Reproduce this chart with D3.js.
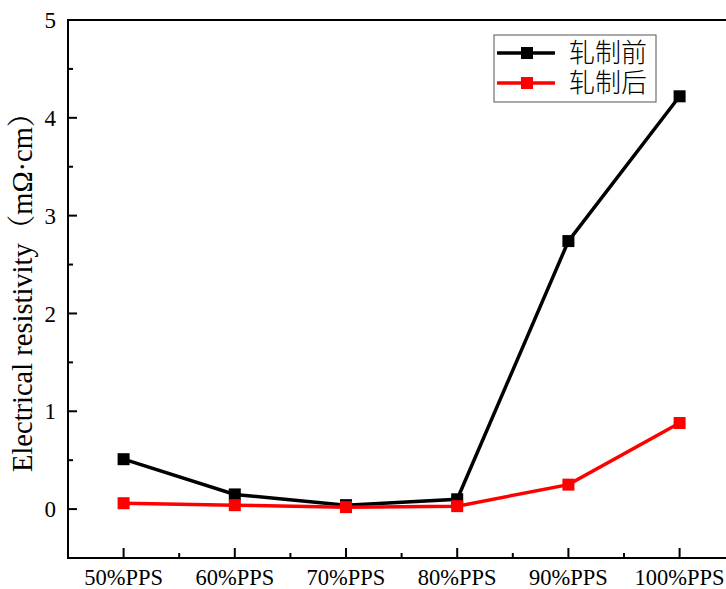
<!DOCTYPE html>
<html>
<head>
<meta charset="utf-8">
<script src="https://cdn.jsdelivr.net/npm/d3@7"></script>
<style>
  html, body { margin: 0; padding: 0; background: #fff; }
  svg { display: block; }
</style>
</head>
<body>
<svg id="chart" width="726" height="589"></svg>
<script>
const categories = ["50%PPS", "60%PPS", "70%PPS", "80%PPS", "90%PPS", "100%PPS"];
const beforeRolling = [0.51, 0.15, 0.04, 0.10, 2.74, 4.22];
const afterRolling  = [0.06, 0.04, 0.02, 0.03, 0.25, 0.88];
const seriesNames = ["轧制前", "轧制后"];
const seriesColors = ["#000000", "#ff0000"];
const yTicks = [0, 1, 2, 3, 4, 5];

(function () {
    const svg = d3.select("#chart");
    const left = 68, top = 20, bottom = 558;
    const step = 111.2;
    const right = left + step * 6;

    const x = d3.scaleLinear().domain([0.5, 6.5]).range([left, right]);
    const y = d3.scaleLinear().domain([-0.5, 5]).range([bottom, top]);

    const serif = "Liberation Serif";

    // frame (right side falls outside the picture)
    svg.append("rect")
        .attr("x", left).attr("y", top)
        .attr("width", right - left).attr("height", bottom - top)
        .attr("fill", "none").attr("stroke", "#000").attr("stroke-width", 2);

    // y ticks (inward)
    const yMinor = d3.range(-0.5, 5.01, 0.5).filter(v => !Number.isInteger(v));
    svg.append("g").selectAll("line").data(yTicks).join("line")
        .attr("x1", left).attr("x2", left + 9)
        .attr("y1", d => y(d)).attr("y2", d => y(d))
        .attr("stroke", "#000").attr("stroke-width", 2);
    svg.append("g").selectAll("line").data(yMinor).join("line")
        .attr("x1", left).attr("x2", left + 5)
        .attr("y1", d => y(d)).attr("y2", d => y(d))
        .attr("stroke", "#000").attr("stroke-width", 2);
    svg.append("g").selectAll("text").data(yTicks).join("text")
        .attr("x", left - 12).attr("y", d => y(d))
        .attr("dy", "0.35em")
        .attr("text-anchor", "end")
        .attr("font-family", serif).attr("font-size", 23)
        .text(d => d);

    // x ticks (inward)
    const xMajor = categories.map((c, i) => i + 1);
    const xMinor = d3.range(1.5, 6.5, 1);
    svg.append("g").selectAll("line").data(xMajor).join("line")
        .attr("x1", d => x(d)).attr("x2", d => x(d))
        .attr("y1", bottom).attr("y2", bottom - 10)
        .attr("stroke", "#000").attr("stroke-width", 2);
    svg.append("g").selectAll("line").data(xMinor).join("line")
        .attr("x1", d => x(d)).attr("x2", d => x(d))
        .attr("y1", bottom).attr("y2", bottom - 5)
        .attr("stroke", "#000").attr("stroke-width", 2);
    svg.append("g").selectAll("text").data(categories).join("text")
        .attr("x", (d, i) => x(i + 1)).attr("y", 585)
        .attr("text-anchor", "middle")
        .attr("font-family", serif).attr("font-size", 22.5)
        .text(d => d);

    // y label
    svg.append("text")
        .attr("transform", "translate(32, 472) rotate(-90)")
        .attr("font-family", "Liberation Serif, Noto Serif CJK SC, Noto Sans CJK SC")
        .attr("font-size", 28.5)
        .text("Electrical resistivity（mΩ·cm）");

    // series
    const series = [beforeRolling, afterRolling];
    const line = d3.line().x((d, i) => x(i + 1)).y(d => y(d));
    series.forEach((vals, s) => {
        const g = svg.append("g");
        g.append("path")
            .attr("d", line(vals))
            .attr("fill", "none")
            .attr("stroke", seriesColors[s])
            .attr("stroke-width", 3.5);
        g.selectAll("rect").data(vals).join("rect")
            .attr("x", (d, i) => x(i + 1) - 6)
            .attr("y", d => y(d) - 6)
            .attr("width", 12).attr("height", 12)
            .attr("fill", seriesColors[s]);
    });

    // legend
    const lg = svg.append("g").attr("transform", "translate(494, 35)");
    lg.append("rect")
        .attr("width", 162).attr("height", 67)
        .attr("fill", "#fff").attr("stroke", "#555").attr("stroke-width", 1);
    seriesNames.forEach((name, i) => {
        const cy = 18 + i * 30;
        lg.append("line")
            .attr("x1", 3).attr("x2", 61)
            .attr("y1", cy).attr("y2", cy)
            .attr("stroke", seriesColors[i]).attr("stroke-width", 3.5);
        lg.append("rect")
            .attr("x", 27).attr("y", cy - 6)
            .attr("width", 12).attr("height", 12)
            .attr("fill", seriesColors[i]);
        lg.append("text")
            .attr("x", 75).attr("y", cy)
            .attr("dy", "0.36em")
            .attr("font-family", "Noto Sans CJK SC")
            .attr("font-weight", 300)
            .attr("font-size", 26)
            .text(name);
    });
})();
</script>
</body>
</html>
